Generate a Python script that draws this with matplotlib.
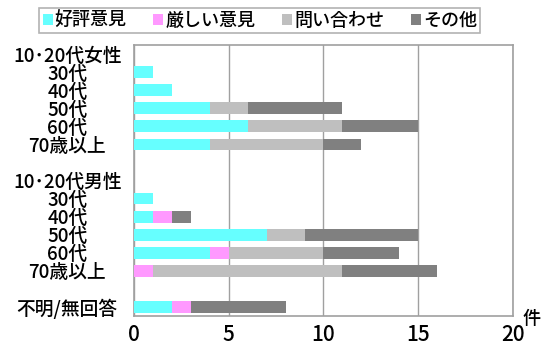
import matplotlib
matplotlib.use("Agg")
import matplotlib.pyplot as plt
import numpy as np

plt.rcParams["font.family"] = ["Noto Sans CJK JP", "DejaVu Sans"]

categories = ["10･20代女性", "30代", "40代", "50代", "60代", "70歳以上", "",
              "10･20代男性", "30代", "40代", "50代", "60代", "70歳以上", "",
              "不明/無回答"]
series_names = ["好評意見", "厳しい意見", "問い合わせ", "その他"]
positive = [0, 1, 2, 4, 6, 4, 0, 0, 1, 1, 7, 4, 0, 0, 2]
critical = [0, 0, 0, 0, 0, 0, 0, 0, 0, 1, 0, 1, 1, 0, 1]
inquiry = [0, 0, 0, 2, 5, 6, 0, 0, 0, 0, 2, 5, 10, 0, 0]
other = [0, 0, 0, 5, 4, 2, 0, 0, 0, 1, 6, 4, 5, 0, 5]
colors = ["#66ffff", "#ff99ff", "#bfbfbf", "#808080"]

fig = plt.figure(figsize=(5.55, 3.47), dpi=100)
ax = fig.add_axes([0.2414, 0.0893, 0.6829, 0.781])

y = np.arange(len(categories))
left = np.zeros(len(categories))
for name, vals, c in zip(series_names, [positive, critical, inquiry, other], colors):
    ax.barh(y, vals, left=left, height=0.65, color=c, label=name, zorder=3)
    left += np.array(vals)

ax.set_xlim(0, 20)
ax.set_ylim(len(categories) - 0.5, -0.5)
ax.set_xticks([0, 5, 10, 15, 20])
ax.set_yticks(y)
ax.set_yticklabels(categories, ha="center", fontsize=13.5, fontweight="medium")
ax.tick_params(axis="y", length=0, pad=48)
ax.tick_params(axis="x", length=0, pad=6, labelsize=15)
for lbl in ax.get_xticklabels():
    lbl.set_fontweight("medium")
ax.grid(axis="x", color="#a0a0a0", linewidth=1, zorder=1)
for s in ax.spines.values():
    s.set_color("#a0a0a0")
    s.set_linewidth(1.2)

fig.text(0.958, 0.082, "件", fontsize=13, ha="center", va="center",
         fontweight="medium")

leg = fig.legend(loc="center", bbox_to_anchor=(0.468, 0.94), ncol=4,
                 prop={"size": 13, "weight": "medium"}, frameon=True,
                 fancybox=False, handlelength=0.55, handleheight=0.55,
                 handletextpad=0.1, columnspacing=1.5, borderpad=0.2,
                 borderaxespad=0)
leg.get_frame().set_edgecolor("#a0a0a0")
leg.get_frame().set_linewidth(1.2)

fig.savefig("out.png", dpi=100)
